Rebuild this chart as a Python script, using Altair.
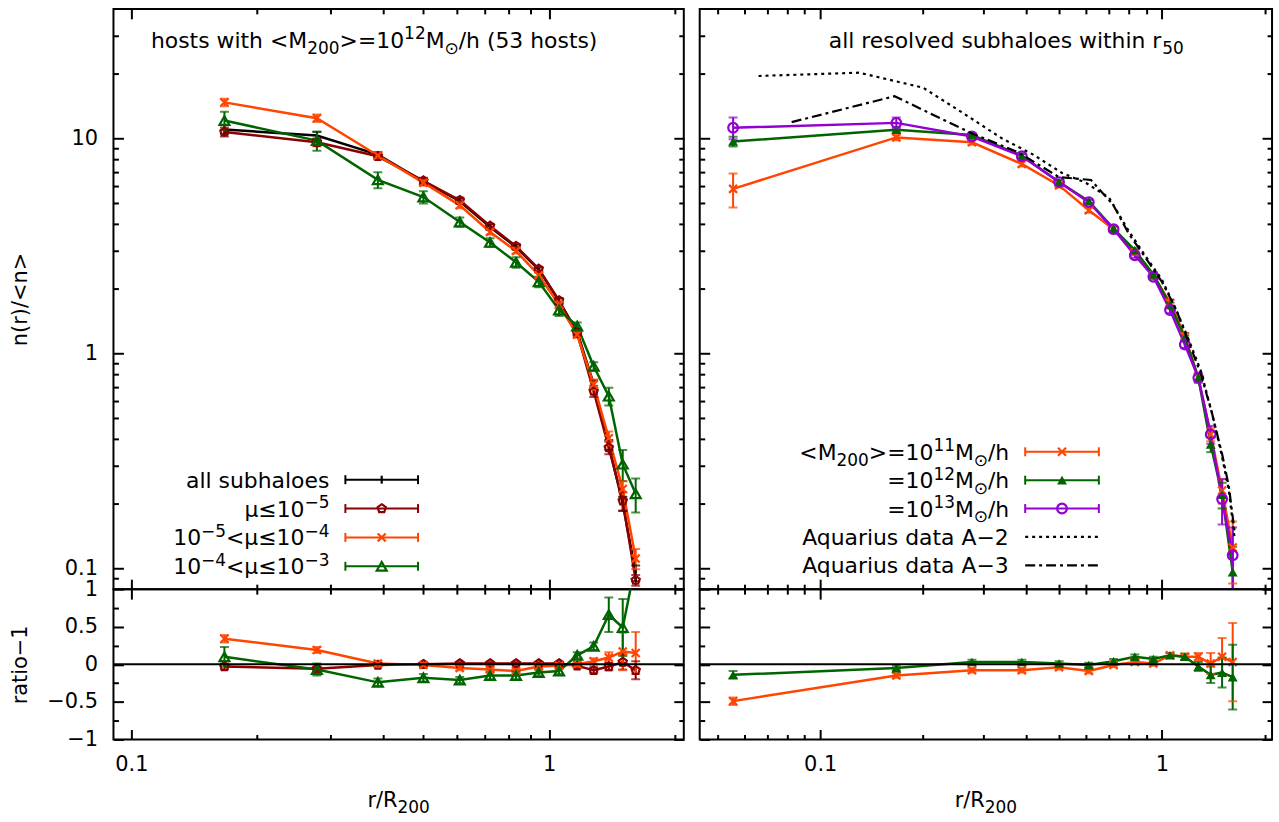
import altair as alt
import pandas as pd

FONT = "DejaVu Sans"
FS = 21      # axis labels and titles
TFS = 22     # texts inside the panels
SFS = 17     # super/subscripts

# ---------------- data ----------------
r_bins = [0.167, 0.278, 0.389, 0.5, 0.611, 0.722, 0.833, 0.944, 1.056, 1.167, 1.278, 1.389, 1.5, 1.611]
r_bins_right = [0.0556] + r_bins

# left panel: hosts with <M200> = 1e12
n_all = [11.0, 10.3, 8.4, 6.3, 5.1, 3.87, 3.12, 2.45, 1.75, 1.26, 0.72, 0.375, 0.2, 0.095]
e_all = [0.5, 0.4, 0.25, 0.18, 0.13, 0.1, 0.08, 0.06, 0.05, 0.04, 0.03, 0.02, 0.015, 0.008]
n_mu5 = [10.7, 9.58, 8.25, 6.35, 5.15, 3.91, 3.15, 2.47, 1.76, 1.24, 0.667, 0.364, 0.206, 0.088]
e_mu5 = [0.5, 0.4, 0.25, 0.2, 0.15, 0.1, 0.08, 0.06, 0.05, 0.04, 0.04, 0.025, 0.02, 0.005]
n_mu4 = [14.7, 12.4, 8.32, 6.22, 4.88, 3.67, 2.99, 2.31, 1.68, 1.22, 0.716, 0.403, 0.234, 0.111]
e_mu4 = [0.6, 0.5, 0.3, 0.2, 0.15, 0.1, 0.08, 0.06, 0.05, 0.04, 0.04, 0.03, 0.02, 0.012]
n_mu3 = [12.1, 9.76, 6.41, 5.33, 4.08, 3.28, 2.65, 2.15, 1.59, 1.34, 0.87, 0.632, 0.305, 0.222]
e_mu3 = [1.2, 1.0, 0.55, 0.35, 0.2, 0.15, 0.15, 0.12, 0.1, 0.05, 0.04, 0.06, 0.05, 0.04]

ratio_mu5 = [-0.03, -0.06, -0.01, 0.0, 0.01, 0.01, 0.01, 0.01, 0.01, -0.02, -0.08, -0.03, 0.03, -0.08]
rerr_mu5 = [0.04, 0.03, 0.02, 0.02, 0.02, 0.02, 0.02, 0.02, 0.02, 0.03, 0.04, 0.05, 0.1, 0.12]
ratio_mu4 = [0.34, 0.19, 0.01, -0.01, -0.05, -0.07, -0.09, -0.03, -0.02, 0.0, 0.04, 0.09, 0.17, 0.15]
rerr_mu4 = [0.05, 0.04, 0.03, 0.03, 0.03, 0.03, 0.03, 0.03, 0.03, 0.03, 0.04, 0.07, 0.25, 0.28]
ratio_mu3 = [0.10, -0.07, -0.24, -0.18, -0.21, -0.15, -0.15, -0.11, -0.09, 0.12, 0.24, 0.66, 0.49, 1.35]
rerr_mu3 = [0.13, 0.08, 0.05, 0.05, 0.04, 0.05, 0.05, 0.04, 0.04, 0.04, 0.05, 0.23, 0.38, 0.3]

# right panel: all resolved subhaloes within r50
n_m11 = [5.82, 10.1, 9.58, 7.6, 6.04, 4.63, 3.78, 2.95, 2.3, 1.72, 1.2, 0.77, 0.42, 0.23, 0.125]
e_m11 = [1.05, 0.3, 0.25, 0.2, 0.15, 0.12, 0.1, 0.08, 0.06, 0.05, 0.04, 0.03, 0.03, 0.03, 0.04]
n_m12 = [9.66, 10.97, 10.36, 8.3, 6.26, 5.1, 3.8, 3.02, 2.33, 1.68, 1.18, 0.77, 0.377, 0.22, 0.096]
e_m12 = [0.5, 0.3, 0.2, 0.15, 0.12, 0.1, 0.08, 0.06, 0.05, 0.04, 0.03, 0.03, 0.03, 0.03, 0.03]
n_m13 = [11.2, 11.8, 10.2, 8.26, 6.26, 5.05, 3.78, 2.86, 2.27, 1.59, 1.10, 0.769, 0.42, 0.21, 0.115]
e_m13 = [1.3, 0.7, 0.3, 0.2, 0.15, 0.12, 0.1, 0.08, 0.06, 0.05, 0.04, 0.04, 0.04, 0.05, 0.04]

ratio_m11 = [-0.49, -0.15, -0.08, -0.08, -0.04, -0.09, -0.01, 0.03, 0.01, 0.12, 0.10, 0.10, 0.01, 0.10, 0.03]
rerr_m11 = [0.05, 0.03, 0.03, 0.03, 0.03, 0.03, 0.03, 0.03, 0.03, 0.03, 0.04, 0.05, 0.14, 0.25, 0.52]
ratio_m12 = [-0.14, -0.05, 0.03, 0.03, 0.01, -0.01, 0.04, 0.10, 0.07, 0.12, 0.10, -0.03, -0.14, -0.11, -0.17]
rerr_m12 = [0.05, 0.03, 0.03, 0.03, 0.03, 0.03, 0.03, 0.03, 0.03, 0.03, 0.04, 0.06, 0.11, 0.2, 0.43]

aq2_r = [0.066, 0.13, 0.2, 0.26, 0.34, 0.42, 0.51, 0.6, 0.7, 0.8, 0.9, 1.0, 1.1, 1.2, 1.3, 1.4, 1.5, 1.57, 1.63]
aq2_v = [19.5, 20.2, 17.2, 13.2, 10.0, 8.4, 6.9, 6.2, 5.3, 3.7, 2.8, 2.2, 1.6, 1.15, 0.83, 0.53, 0.33, 0.23, 0.14]
aq3_r = [0.0825, 0.165, 0.276, 0.38, 0.5, 0.62, 0.72, 0.8, 0.9, 1.0, 1.1, 1.2, 1.3, 1.4, 1.5, 1.57, 1.63]
aq3_v = [11.9, 15.7, 10.6, 8.6, 6.6, 6.4, 4.9, 3.6, 2.75, 2.15, 1.6, 1.12, 0.8, 0.53, 0.34, 0.24, 0.15]

x_major = [0.1, 1]
x_minor_left = [0.2, 0.3, 0.4, 0.5, 0.6, 0.7, 0.8, 0.9, 2]
x_minor_right = [0.05, 0.06, 0.07, 0.08, 0.09, 0.2, 0.3, 0.4, 0.5, 0.6, 0.7, 0.8, 0.9, 2]
y_major_top = [0.1, 1, 10]
y_minor_top = [0.09, 0.2, 0.3, 0.4, 0.5, 0.6, 0.7, 0.8, 0.9, 2, 3, 4, 5, 6, 7, 8, 9, 20, 30]
y_major_ratio = [-1, -0.5, 0, 0.5, 1]
y_minor_ratio = [-0.75, -0.25, 0.25, 0.75]

# rich texts: (text, kind) with kind n = normal, sup = superscript, sub = subscript
title_left = [("hosts with <M", "n"), ("200", "sub"), (">=10", "n"), ("12", "sup"),
              ("M", "n"), ("⊙", "sub"), ("/h (53 hosts)", "n")]
title_right = [("all resolved subhaloes within r", "n"), ("50", "sub")]
x_title = [("r/R", "n"), ("200", "sub")]
legend_left_labels = [
    [("all subhaloes", "n")],
    [("μ≤10", "n"), ("−5", "sup")],
    [("10", "n"), ("−5", "sup"), ("<μ≤10", "n"), ("−4", "sup")],
    [("10", "n"), ("−4", "sup"), ("<μ≤10", "n"), ("−3", "sup")],
]
legend_right_labels = [
    [("<M", "n"), ("200", "sub"), (">=10", "n"), ("11", "sup"), ("M", "n"), ("⊙", "sub"), ("/h", "n")],
    [("=10", "n"), ("12", "sup"), ("M", "n"), ("⊙", "sub"), ("/h", "n")],
    [("=10", "n"), ("13", "sup"), ("M", "n"), ("⊙", "sub"), ("/h", "n")],
    [("Aquarius data A−2", "n")],
    [("Aquarius data A−3", "n")],
]

BLACK, DRED, ORANGE, GREEN, PURPLE = "#000000", "#8b0000", "#ff4500", "#006400", "#9400d3"
CROSS = "M-1,-1L1,1M-1,1L1,-1"
PENT = "M0,-1L0.951,-0.309L0.588,0.809L-0.588,0.809L-0.951,-0.309Z"
VBAR = "M0,-1L0,1"

# approximate DejaVu Sans advance widths (per 1000 em)
W = {" ": 318, "(": 390, ")": 390, "/": 337, "<": 838, ">": 838, "=": 838, ".": 318,
     "A": 684, "M": 863, "R": 695, "a": 613, "b": 635, "d": 635, "e": 615, "h": 634,
     "i": 278, "l": 278, "n": 634, "o": 612, "q": 635, "r": 411, "s": 521, "t": 392,
     "u": 634, "v": 592, "w": 818, "−": 838, "≤": 838, "μ": 636, "⊙": 838}
for _d in "0123456789":
    W[_d] = 636


def tw(s, fs):
    return sum(W.get(c, 600) for c in s) * fs / 1000.0


def rich_df(segs, x, y, align, fs=TFS):
    sizes = [fs if k == "n" else SFS for _, k in segs]
    widths = [tw(t, s) for (t, _), s in zip(segs, sizes)]
    total = sum(widths)
    start = x - total if align == "right" else (x - total / 2 if align == "center" else x)
    rows, cx = [], start
    for (t, k), s, wd in zip(segs, sizes, widths):
        dy = -8.5 if k == "sup" else (6 if k == "sub" else 0)
        rows.append(dict(t=t, px=cx, py=y + dy, fs=s))
        cx += wd
    return pd.DataFrame(rows)


def rich_layer(df):
    return alt.Chart(df).mark_text(font=FONT, align="left", baseline="alphabetic",
                                   color="black").encode(
        x=alt.X("px:Q", scale=None), y=alt.Y("py:Q", scale=None), text="t:N",
        size=alt.Size("fs:Q", scale=None))


# ---------------- helpers ----------------
def long_df(r, specs):
    rows = []
    for s in specs:
        for x, v, e in zip(r, s["v"], s["e"]):
            rows.append(dict(series=s["name"], col=s["color"], r=x, v=v, lo=v - e, hi=v + e))
    return pd.DataFrame(rows)


def ax(orient, values, size, labels=False, title=None, **extra):
    return alt.Axis(orient=orient, values=values, tickSize=size, offset=-size,
                    labels=labels, title=title, format="~g", domain=False, grid=False,
                    labelFlush=False, **extra)


def panel(specs, r, xdom, ydom, ytype, ymaj, ymin, xminor, w, h,
          ylabels, ytitle, xlabels, extra=()):
    df = long_df(r, specs)
    caps = pd.concat([df.assign(yc=df["lo"]), df.assign(yc=df["hi"])])
    xs = alt.Scale(type="log", domain=xdom, nice=False)
    if ytype == "log":
        ys = alt.Scale(type="log", domain=ydom, nice=False)
    else:
        ys = alt.Scale(type="linear", domain=ydom, nice=False, zero=False)
    col = alt.Color("col:N", scale=None)

    xkw = dict(labelPadding=14) if xlabels else {}
    ykw = dict(labelPadding=16, titleX=-103, titleBaseline="middle") if ylabels else {}

    lines = alt.Chart(df).mark_line(strokeWidth=2.5, clip=True).encode(
        x=alt.X("r:Q", scale=xs, axis=ax("bottom", x_major, 10, xlabels, None, **xkw)),
        y=alt.Y("v:Q", scale=ys, axis=ax("left", ymaj, 10, ylabels, ytitle, **ykw)),
        color=col, detail="series:N")
    rules = alt.Chart(df).mark_rule(strokeWidth=2, clip=True).encode(
        x=alt.X("r:Q", scale=xs, axis=ax("bottom", xminor, 5)),
        y=alt.Y("lo:Q", scale=ys, axis=ax("left", ymin, 5)),
        y2="hi:Q", color=col)
    capm = alt.Chart(caps).mark_tick(orient="horizontal", size=9, thickness=2, clip=True).encode(
        x=alt.X("r:Q", scale=xs, axis=ax("top", x_major, 10)),
        y=alt.Y("yc:Q", scale=ys, axis=ax("right", ymaj, 10)),
        color=col)
    layers = [lines, rules, capm]
    first = True
    for s in specs:
        if s.get("shape") is None:
            continue
        sub = df[df["series"] == s["name"]]
        if first:
            xa, ya = ax("top", xminor, 5), ax("right", ymin, 5)
            first = False
        else:
            xa, ya = None, None
        layers.append(alt.Chart(sub).mark_point(
            shape=s["shape"], filled=s["filled"], color=s["color"], size=s["size"],
            strokeWidth=2.2, opacity=1, clip=True).encode(
            x=alt.X("r:Q", scale=xs, axis=xa), y=alt.Y("v:Q", scale=ys, axis=ya)))
    for e in extra:
        layers.append(e(xs, ys))
    return alt.layer(*layers).resolve_axis(x="independent", y="independent").properties(
        width=w, height=h)


def zero_line(xs, ys):
    return alt.Chart(pd.DataFrame({"z": [0]})).mark_rule(color="black", strokeWidth=2).encode(
        y=alt.Y("z:Q", scale=ys, axis=None))


def aq_line(rr, vv, dash):
    def f(xs, ys):
        return alt.Chart(pd.DataFrame({"r": rr, "v": vv})).mark_line(
            color="black", strokeWidth=2.2, strokeDash=dash, clip=True).encode(
            x=alt.X("r:Q", scale=xs, axis=None), y=alt.Y("v:Q", scale=ys, axis=None))
    return f


def rich_text(segs, x, y, align, fs=TFS):
    def f(xs, ys):
        return rich_layer(rich_df(segs, x, y, align, fs))
    return f


def legend(labels, entries, tx, x0, x1, y0, dy):
    # entries: list of (color, shape, filled, size, dash)
    out = []
    for i, (segs, e) in enumerate(zip(labels, entries)):
        color, shape, filled, size, dash = e
        ly = y0 + i * dy
        row = pd.DataFrame({"ly": [ly], "lo": [ly - 4.5], "hi": [ly + 4.5]})
        tdf = rich_df(segs, tx, ly + 8, "right")

        def mk_row(xs, ys, row=row, tdf=tdf, color=color, shape=shape, filled=filled,
                   size=size, dash=dash):
            txt = rich_layer(tdf)
            if dash is not None:
                seg = alt.Chart(row).mark_rule(color=color, strokeWidth=2.2, strokeDash=dash).encode(
                    x=alt.value(x0), x2=alt.value(x1), y=alt.Y("ly:Q", scale=None))
                return alt.layer(txt, seg)
            seg = alt.Chart(row).mark_rule(color=color, strokeWidth=2).encode(
                x=alt.value(x0), x2=alt.value(x1), y=alt.Y("ly:Q", scale=None))
            c0 = alt.Chart(row).mark_rule(color=color, strokeWidth=2).encode(
                x=alt.value(x0), y=alt.Y("lo:Q", scale=None), y2="hi:Q")
            c1 = alt.Chart(row).mark_rule(color=color, strokeWidth=2).encode(
                x=alt.value(x1), y=alt.Y("lo:Q", scale=None), y2="hi:Q")
            sym = alt.Chart(row).mark_point(shape=shape, filled=filled, color=color, size=size,
                                            strokeWidth=2.2, opacity=1).encode(
                x=alt.value((x0 + x1) / 2), y=alt.Y("ly:Q", scale=None))
            return alt.layer(txt, seg, c0, c1, sym)
        out.append(mk_row)
    return out


# ---------------- panels ----------------
LW, RW, TH, BH = 573, 575, 583, 151
xdom_left = [0.0906, 2.1]
xdom_right = [0.0444, 2.1]
ydom_top = [0.08, 40]
ydom_ratio = [-1, 1]

specs_tl = [
    dict(name="all", color=BLACK, v=n_all, e=e_all, shape=None),
    dict(name="mu5", color=DRED, v=n_mu5, e=e_mu5, shape=PENT, filled=False, size=75),
    dict(name="mu4", color=ORANGE, v=n_mu4, e=e_mu4, shape=CROSS, filled=False, size=64),
    dict(name="mu3", color=GREEN, v=n_mu3, e=e_mu3, shape="triangle-up", filled=False, size=100),
]
specs_bl = [
    dict(name="mu5", color=DRED, v=ratio_mu5, e=rerr_mu5, shape=PENT, filled=False, size=75),
    dict(name="mu4", color=ORANGE, v=ratio_mu4, e=rerr_mu4, shape=CROSS, filled=False, size=64),
    dict(name="mu3", color=GREEN, v=ratio_mu3, e=rerr_mu3, shape="triangle-up", filled=False, size=100),
]
specs_tr = [
    dict(name="m11", color=ORANGE, v=n_m11, e=e_m11, shape=CROSS, filled=False, size=64),
    dict(name="m12", color=GREEN, v=n_m12, e=e_m12, shape="triangle-up", filled=True, size=100),
    dict(name="m13", color=PURPLE, v=n_m13, e=e_m13, shape="circle", filled=False, size=95),
]
specs_br = [
    dict(name="m11", color=ORANGE, v=ratio_m11, e=rerr_m11, shape=CROSS, filled=False, size=64),
    dict(name="m12", color=GREEN, v=ratio_m12, e=rerr_m12, shape="triangle-up", filled=True, size=100),
]

leg_left = legend(legend_left_labels,
                  [(BLACK, VBAR, False, 64, None), (DRED, PENT, False, 75, None),
                   (ORANGE, CROSS, False, 64, None), (GREEN, "triangle-up", False, 100, None)],
                  tx=217, x0=233, x1=306, y0=473, dy=29)
leg_right = legend(legend_right_labels,
                   [(ORANGE, CROSS, False, 64, None), (GREEN, "triangle-up", True, 100, None),
                    (PURPLE, "circle", False, 95, None), (BLACK, None, False, 0, [3, 4]),
                    (BLACK, None, False, 0, [10, 4, 3, 4])],
                   tx=311, x0=327, x1=401, y0=445, dy=28.5)

top_left = panel(specs_tl, r_bins, xdom_left, ydom_top, "log", y_major_top, y_minor_top,
                 x_minor_left, LW, TH, True, "n(r)/<n>", False,
                 extra=[rich_text(title_left, 262, 39, "center")] + leg_left)
bot_left = panel(specs_bl, r_bins, xdom_left, ydom_ratio, "linear", y_major_ratio, y_minor_ratio,
                 x_minor_left, LW, BH, True, "ratio−1", True,
                 extra=[zero_line, rich_text(x_title, LW / 2, 219, "center", FS)])
top_right = panel(specs_tr, r_bins_right, xdom_right, ydom_top, "log", y_major_top, y_minor_top,
                  x_minor_right, RW, TH, False, None, False,
                  extra=[aq_line(aq2_r, aq2_v, [3, 4]), aq_line(aq3_r, aq3_v, [10, 4, 3, 4]),
                         rich_text(title_right, 308, 39, "center")] + leg_right)
bot_right = panel(specs_br, r_bins_right, xdom_right, ydom_ratio, "linear", y_major_ratio,
                  y_minor_ratio, x_minor_right, RW, BH, False, None, True,
                  extra=[zero_line, rich_text(x_title, RW / 2, 219, "center", FS)])

left = alt.vconcat(top_left, bot_left, spacing=0, bounds="flush")
right = alt.vconcat(top_right, bot_right, spacing=0, bounds="flush")
chart = alt.hconcat(left, right, spacing=12).properties(
    padding={"left": 8, "top": 5, "right": 5, "bottom": 5}, background="white"
).configure_view(stroke="black", strokeWidth=2).configure_axis(
    tickColor="black", tickWidth=2, labelColor="black", labelFont=FONT, labelFontSize=FS,
    titleFont=FONT, titleFontSize=FS, titleFontWeight="normal", titleColor="black",
    grid=False, domain=False
)

chart.save("out.html", embed_options={"renderer": "svg", "actions": False})
